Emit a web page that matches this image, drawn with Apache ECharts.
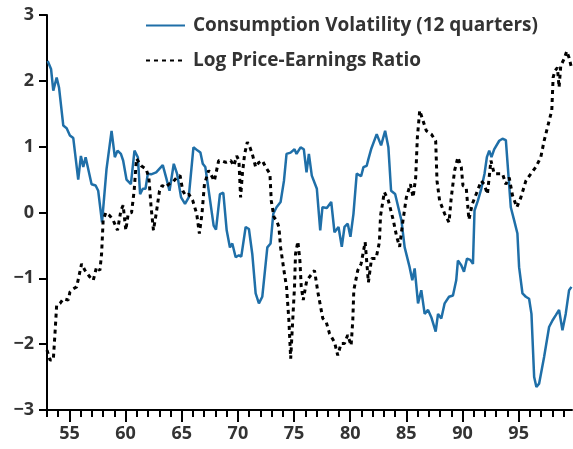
<!DOCTYPE html>
<html>
<head>
<meta charset="utf-8">
<script src="https://cdn.jsdelivr.net/npm/echarts@6/dist/echarts.min.js"></script>
<style>
  html, body { margin: 0; padding: 0; background: #fff; }
  #main { width: 573px; height: 449px; }
</style>
</head>
<body>
<div id="main"></div>
<script>
// consumption volatility (12 quarters)
var consYears = [53.06, 53.36, 53.56, 53.86, 54.07, 54.45, 54.75, 55.04, 55.34, 55.78, 56.02, 56.23, 56.44, 56.97, 57.33, 57.56, 57.9, 58.3, 58.75, 59.04,
  59.28, 59.58, 59.78, 60.08, 60.47, 60.79, 61.09, 61.29, 61.53, 61.77, 61.98, 62.27, 62.72, 63.31, 63.61, 63.91, 64.29, 64.58, 64.94, 65.29,
  65.62, 66.04, 66.42, 66.66, 66.87, 67.1, 67.4, 67.84, 68.05, 68.4, 68.7, 69.0, 69.29, 69.5, 69.8, 70.09, 70.3, 70.69, 70.98, 71.28,
  71.58, 71.87, 72.17, 72.62, 72.91, 73.15, 73.44, 73.8, 74.1, 74.33, 74.69, 75.04, 75.22, 75.58, 75.87, 76.11, 76.32, 76.58, 77.03, 77.33,
  77.53, 77.92, 78.31, 78.6, 78.96, 79.25, 79.49, 79.78, 80.02, 80.29, 80.58, 80.97, 81.18, 81.47, 81.62, 81.86, 82.36, 82.75, 83.11, 83.4,
  83.64, 84.0, 84.35, 84.56, 84.85, 85.29, 85.53, 85.74, 86.04, 86.33, 86.63, 86.93, 87.22, 87.61, 87.82, 88.11, 88.41, 88.8, 89.15, 89.44,
  89.59, 89.89, 90.13, 90.4, 90.69, 90.93, 91.07, 91.37, 91.67, 91.96, 92.17, 92.38, 92.58, 92.82, 93.27, 93.56, 93.86, 94.3, 94.6, 94.89,
  95.04, 95.34, 95.64, 95.93, 96.14, 96.38, 96.58, 96.82, 97.27, 97.71, 98.01, 98.31, 98.6, 98.9, 99.19, 99.49, 99.7];
var consVals = [2.30, 2.18, 1.85, 2.05, 1.90, 1.32, 1.28, 1.17, 1.13, 0.50, 0.86, 0.69, 0.84, 0.43, 0.41, 0.33, -0.15, 0.66, 1.24, 0.84,
  0.94, 0.89, 0.79, 0.50, 0.43, 0.94, 0.84, 0.28, 0.36, 0.36, 0.59, 0.58, 0.61, 0.72, 0.53, 0.33, 0.74, 0.59, 0.23, 0.13,
  0.23, 0.99, 0.94, 0.91, 0.74, 0.69, 0.33, -0.20, -0.26, 0.28, 0.30, -0.27, -0.53, -0.47, -0.68, -0.65, -0.67, -0.22, -0.25, -0.63,
  -1.23, -1.38, -1.28, -0.53, -0.47, -0.02, 0.08, 0.16, 0.48, 0.89, 0.91, 0.96, 0.89, 0.99, 0.96, 0.61, 0.89, 0.56, 0.36, -0.27,
  0.08, 0.07, 0.16, -0.30, -0.22, -0.52, -0.22, -0.17, -0.37, -0.02, 0.59, 0.55, 0.69, 0.71, 0.81, 0.96, 1.19, 1.02, 1.24, 0.99,
  0.33, 0.28, 0.03, -0.12, -0.53, -0.83, -1.03, -0.85, -1.38, -1.18, -1.54, -1.48, -1.59, -1.81, -1.54, -1.61, -1.38, -1.28, -1.26, -1.03,
  -0.73, -0.80, -0.90, -0.70, -0.72, -0.78, 0.03, 0.18, 0.36, 0.59, 0.84, 0.94, 0.84, 0.96, 1.09, 1.12, 1.10, 0.08, -0.12, -0.32,
  -0.83, -1.23, -1.28, -1.31, -1.54, -2.50, -2.65, -2.60, -2.19, -1.74, -1.64, -1.56, -1.48, -1.79, -1.54, -1.18, -1.13];

// log price-earnings ratio
var peYears = [53.0, 53.27, 53.56, 53.71, 53.86, 54.16, 54.45, 54.9, 55.04, 55.34, 55.64, 56.08, 56.38, 56.82, 57.12, 57.41, 57.71, 57.86, 58.0, 58.24,
  58.6, 58.9, 59.28, 59.58, 59.78, 60.02, 60.23, 60.53, 60.76, 60.97, 61.09, 61.38, 61.83, 62.07, 62.27, 62.48, 62.72, 63.02, 63.25, 63.55,
  63.84, 64.2, 64.56, 64.85, 65.09, 65.33, 65.62, 65.98, 66.33, 66.57, 66.8, 67.02, 67.4, 67.9, 68.29, 68.47, 68.91, 69.36, 69.64, 69.89,
  70.09, 70.24, 70.4, 70.6, 70.84, 71.07, 71.28, 71.58, 71.87, 72.17, 72.47, 72.85, 72.97, 73.21, 73.44, 73.65, 73.8, 74.1, 74.33, 74.54,
  74.7, 74.93, 75.04, 75.13, 75.34, 75.52, 75.64, 75.82, 76.02, 76.14, 76.82, 77.12, 77.56, 77.86, 78.16, 78.6, 78.89, 79.19, 79.49, 79.78,
  80.08, 80.23, 80.32, 80.67, 80.97, 81.33, 81.62, 81.9, 82.3, 82.6, 82.7, 83.04, 83.4, 83.84, 84.14, 84.4, 84.7, 85.0, 85.36, 85.6,
  85.83, 85.98, 86.19, 86.49, 86.78, 87.22, 87.61, 87.73, 87.96, 88.41, 88.8, 89.0, 89.3, 89.59, 89.89, 90.04, 90.33, 90.57, 90.87, 91.22,
  91.67, 91.93, 92.22, 92.53, 92.82, 93.12, 93.56, 93.86, 94.16, 94.45, 94.84, 95.2, 95.64, 96.09, 96.53, 96.97, 97.27, 97.71, 97.95, 98.07,
  98.22, 98.45, 98.6, 98.75, 99.04, 99.28, 99.49, 99.7];
var peVals = [-2.09, -2.24, -2.24, -1.84, -1.41, -1.38, -1.31, -1.33, -1.21, -1.16, -1.13, -0.78, -0.88, -0.98, -1.03, -0.83, -0.88, -0.63, -0.12, 0.00,
  -0.05, -0.12, -0.27, 0.03, 0.11, -0.27, -0.02, 0.00, 0.33, 0.82, 0.79, 0.71, 0.66, 0.53, 0.08, -0.27, -0.02, 0.33, 0.41, 0.38,
  0.43, 0.46, 0.53, 0.56, 0.33, 0.26, 0.28, 0.18, -0.02, -0.32, -0.02, 0.43, 0.64, 0.48, 0.79, 0.79, 0.76, 0.79, 0.71, 0.86,
  0.79, 0.23, 0.59, 0.89, 1.07, 0.99, 0.89, 0.69, 0.76, 0.79, 0.69, 0.59, 0.18, -0.07, -0.12, -0.22, -0.53, -0.88, -1.13, -1.64,
  -2.22, -1.48, -1.13, -0.63, -0.44, -0.73, -1.13, -1.33, -1.13, -1.03, -0.88, -1.21, -1.61, -1.66, -1.84, -1.97, -2.17, -1.99, -1.99, -1.86,
  -2.02, -1.64, -1.18, -0.88, -0.78, -0.45, -1.06, -0.70, -0.70, -0.45, -0.05, 0.31, 0.18, -0.12, -0.37, -0.52, -0.12, 0.23, 0.43, 0.23,
  0.53, 1.14, 1.55, 1.39, 1.24, 1.19, 1.09, 0.48, 0.18, -0.02, -0.15, 0.23, 0.64, 0.84, 0.69, 0.41, 0.38, -0.11, 0.13, 0.28,
  0.48, 0.43, 0.28, 0.79, 0.59, 0.59, 0.59, 0.43, 0.53, 0.26, 0.08, 0.23, 0.48, 0.59, 0.69, 0.84, 1.09, 1.39, 1.55, 2.05,
  2.15, 2.20, 1.90, 2.23, 2.33, 2.45, 2.35, 2.20];

var yearLabels = [55, 60, 65, 70, 75, 80, 85, 90, 95];
var yearTicks = [];
for (var y = 53; y <= 99; y++) { yearTicks.push(y); }

function zip(xs, ys) {
  return xs.map(function (x, i) { return [x, ys[i]]; });
}

var font = 'Open Sans';
var chart = echarts.init(document.getElementById('main'));

var option = {
  backgroundColor: '#ffffff',
  animation: false,
  grid: { left: 47, right: 1, top: 15, bottom: 39 },
  legend: {
    orient: 'vertical',
    left: 145,
    top: 16,
    padding: 0,
    itemWidth: 39,
    itemHeight: 14,
    itemGap: 16,
    itemStyle: { color: 'rgba(0,0,0,0)', borderWidth: 0 },
    textStyle: { fontFamily: font, fontSize: 19, fontWeight: 'bold', color: '#333', padding: [0, 0, 0, 3] },
    data: ['Consumption Volatility (12 quarters)', 'Log Price-Earnings Ratio']
  },
  xAxis: [{
    type: 'value',
    min: 53,
    max: 99.75,
    axisLine: { onZero: false, lineStyle: { color: '#000', width: 2 } },
    axisTick: { customValues: yearLabels, length: 12, lineStyle: { color: '#000', width: 2 } },
    axisLabel: { customValues: yearLabels, margin: 15, fontFamily: font, fontSize: 18, fontWeight: 'bold', color: '#333' },
    splitLine: { show: false }
  }, {
    type: 'value',
    position: 'bottom',
    min: 53,
    max: 99.75,
    axisLine: { show: false, onZero: false },
    axisTick: { customValues: yearTicks, length: 7, lineStyle: { color: '#000', width: 2 } },
    axisLabel: { show: false },
    splitLine: { show: false }
  }],
  yAxis: {
    type: 'value',
    min: -3,
    max: 3,
    interval: 1,
    axisLine: { show: true, onZero: false, lineStyle: { color: '#000', width: 2 } },
    axisTick: { show: true, length: 8, lineStyle: { color: '#000', width: 2 } },
    axisLabel: {
      margin: 13, fontFamily: font, fontSize: 18, fontWeight: 'bold', color: '#333',
      formatter: function (v) { return String(v).replace('-', '\u2212'); }
    },
    splitLine: { show: false }
  },
  series: [{
    name: 'Consumption Volatility (12 quarters)',
    type: 'line',
    xAxisIndex: 0,
    symbol: 'none',
    data: zip(consYears, consVals),
    lineStyle: { color: '#1f6fa8', width: 2.5 },
    itemStyle: { color: '#1f6fa8' },
    z: 2
  }, {
    name: 'Log Price-Earnings Ratio',
    type: 'line',
    xAxisIndex: 0,
    symbol: 'none',
    data: zip(peYears, peVals),
    lineStyle: { color: '#000', width: 3, type: [4, 4] },
    itemStyle: { color: '#000' },
    z: 3
  }]
};

chart.setOption(option);
</script>
</body>
</html>
